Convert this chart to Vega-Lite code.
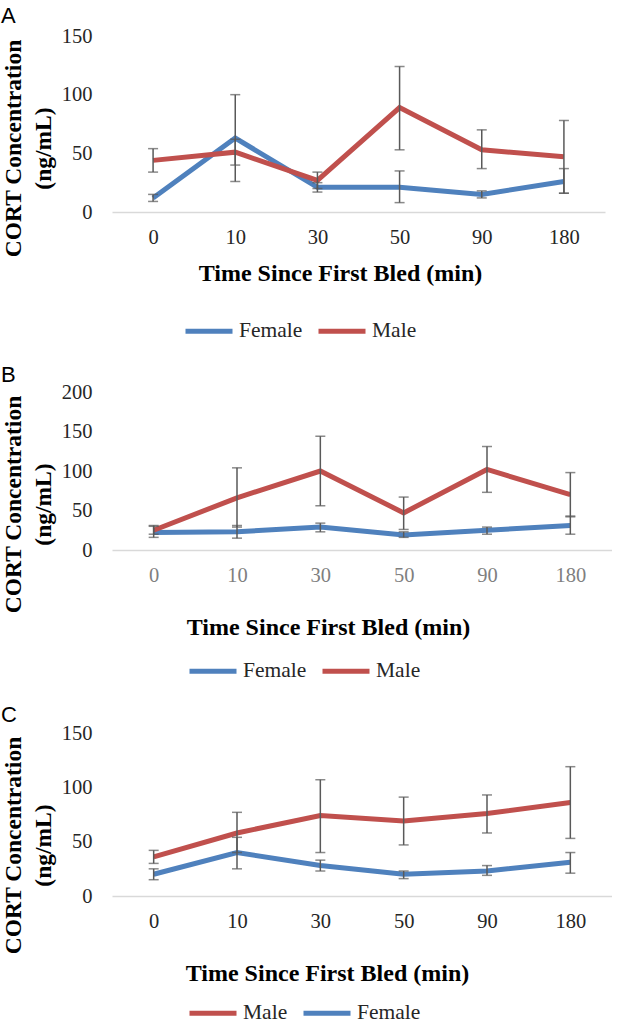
{
  "$schema": "https://vega.github.io/schema/vega-lite/v6.json",
  "padding": {"left": 0, "top": 5, "right": 0, "bottom": 0},
  "spacing": 22,
  "datasets": {
    "A": [
      {"time": 0, "sex": "Female", "mean": 12, "lo": 9, "hi": 15},
      {"time": 10, "sex": "Female", "mean": 63, "lo": 26, "hi": 100},
      {"time": 30, "sex": "Female", "mean": 21, "lo": 17, "hi": 25},
      {"time": 50, "sex": "Female", "mean": 21, "lo": 8, "hi": 35},
      {"time": 90, "sex": "Female", "mean": 15, "lo": 12, "hi": 18},
      {"time": 180, "sex": "Female", "mean": 26, "lo": 16, "hi": 37},
      {"time": 0, "sex": "Male", "mean": 44, "lo": 34, "hi": 54},
      {"time": 10, "sex": "Male", "mean": 51, "lo": 40, "hi": 62},
      {"time": 30, "sex": "Male", "mean": 27, "lo": 20, "hi": 34},
      {"time": 50, "sex": "Male", "mean": 89, "lo": 53, "hi": 124},
      {"time": 90, "sex": "Male", "mean": 53, "lo": 37, "hi": 70},
      {"time": 180, "sex": "Male", "mean": 47, "lo": 16, "hi": 78}
    ],
    "B": [
      {"time": 0, "sex": "Female", "mean": 22, "lo": 16, "hi": 30},
      {"time": 10, "sex": "Female", "mean": 23, "lo": 15, "hi": 31},
      {"time": 30, "sex": "Female", "mean": 29, "lo": 23, "hi": 34},
      {"time": 50, "sex": "Female", "mean": 19, "lo": 16, "hi": 23},
      {"time": 90, "sex": "Female", "mean": 25, "lo": 20, "hi": 29},
      {"time": 180, "sex": "Female", "mean": 31, "lo": 20, "hi": 43},
      {"time": 0, "sex": "Male", "mean": 25, "lo": 20, "hi": 31},
      {"time": 10, "sex": "Male", "mean": 66, "lo": 29, "hi": 104},
      {"time": 30, "sex": "Male", "mean": 100, "lo": 56, "hi": 144},
      {"time": 50, "sex": "Male", "mean": 47, "lo": 26, "hi": 67},
      {"time": 90, "sex": "Male", "mean": 102, "lo": 73, "hi": 131},
      {"time": 180, "sex": "Male", "mean": 70, "lo": 42, "hi": 98}
    ],
    "C": [
      {"time": 0, "sex": "Male", "mean": 36, "lo": 30, "hi": 42},
      {"time": 10, "sex": "Male", "mean": 58, "lo": 40, "hi": 77},
      {"time": 30, "sex": "Male", "mean": 74, "lo": 40, "hi": 107},
      {"time": 50, "sex": "Male", "mean": 69, "lo": 47, "hi": 91},
      {"time": 90, "sex": "Male", "mean": 76, "lo": 58, "hi": 93},
      {"time": 180, "sex": "Male", "mean": 86, "lo": 53, "hi": 119},
      {"time": 0, "sex": "Female", "mean": 20, "lo": 15, "hi": 25},
      {"time": 10, "sex": "Female", "mean": 40, "lo": 25, "hi": 54},
      {"time": 30, "sex": "Female", "mean": 28, "lo": 23, "hi": 33},
      {"time": 50, "sex": "Female", "mean": 20, "lo": 16, "hi": 23},
      {"time": 90, "sex": "Female", "mean": 23, "lo": 19, "hi": 28},
      {"time": 180, "sex": "Female", "mean": 31, "lo": 21, "hi": 40}
    ]
  },
  "config": {
    "view": {"stroke": null},
    "axis": {"labelFont": "Liberation Serif", "labelFontSize": 20.5, "labelColor": "#262626", "ticks": false, "tickSize": 0, "grid": false, "titleColor": "#000000"},
    "axisX": {"domainColor": "#d9d9d9", "domainWidth": 1.5, "labelAngle": 0, "labelPadding": 15, "titleFont": "Liberation Serif", "titleFontSize": 24, "titleFontWeight": "bold", "titleAlign": "center", "titleBaseline": "middle"},
    "axisY": {"domain": false, "labelPadding": 20, "titleFont": "Liberation Serif", "titleFontSize": 23.5, "titleFontWeight": "bold", "titleAngle": -90, "titleAlign": "center", "titleBaseline": "middle", "titleLineHeight": 30, "titleX": -99, "titleY": 112},
    "legend": {"orient": "none", "direction": "horizontal", "symbolType": "stroke", "symbolStrokeWidth": 5, "symbolSize": 2209, "labelFont": "Liberation Serif", "labelFontSize": 21.5, "labelColor": "#262626", "labelOffset": 4, "columnPadding": 5, "title": null},
    "title": {"font": "Liberation Sans", "fontSize": 22, "fontWeight": "normal", "anchor": "start", "frame": "bounds", "color": "#000000"}
  },
  "resolve": {"scale": {"x": "independent", "y": "independent", "color": "independent"}, "legend": {"color": "independent"}},
  "vconcat": [
    {
      "title": {"text": "A", "offset": -2},
      "width": 493,
      "height": 176,
      "data": {"name": "A"},
      "encoding": {
        "x": {"field": "time", "type": "ordinal", "scale": {"type": "point", "padding": 0.5}, "axis": {"title": "Time Since First Bled (min)", "titleX": 228, "titleY": 61}}
      },
      "layer": [
        {
          "mark": {"type": "line", "strokeWidth": 5},
          "encoding": {
            "y": {"field": "mean", "type": "quantitative", "scale": {"domain": [0, 150]}, "axis": {"values": [0, 50, 100, 150], "title": ["CORT Concentration", "(ng/mL)"]}},
            "color": {"field": "sex", "type": "nominal", "scale": {"domain": ["Female", "Male"], "range": ["#4F81BD", "#C0504D"]}, "legend": {"legendX": 71, "legendY": 269}}
          }
        },
        {
          "mark": {"type": "rule", "color": "#595959", "strokeWidth": 1.5},
          "encoding": {"y": {"field": "lo", "type": "quantitative", "scale": {"domain": [0, 150]}, "axis": {"values": [0, 50, 100, 150], "title": ["CORT Concentration", "(ng/mL)"]}}, "y2": {"field": "hi"}}
        },
        {
          "mark": {"type": "tick", "color": "#595959", "thickness": 1.5, "size": 10},
          "encoding": {"y": {"field": "lo", "type": "quantitative", "scale": {"domain": [0, 150]}, "axis": {"values": [0, 50, 100, 150], "title": ["CORT Concentration", "(ng/mL)"]}}}
        },
        {
          "mark": {"type": "tick", "color": "#595959", "thickness": 1.5, "size": 10},
          "encoding": {"y": {"field": "hi", "type": "quantitative", "scale": {"domain": [0, 150]}, "axis": {"values": [0, 50, 100, 150], "title": ["CORT Concentration", "(ng/mL)"]}}}
        }
      ]
    },
    {
      "title": {"text": "B", "offset": -5},
      "width": 500,
      "height": 158,
      "data": {"name": "B"},
      "encoding": {
        "x": {"field": "time", "type": "ordinal", "scale": {"type": "point", "padding": 0.5}, "axis": {"title": "Time Since First Bled (min)", "titleX": 216, "titleY": 77, "labelColor": "#7f7f7f"}}
      },
      "layer": [
        {
          "mark": {"type": "line", "strokeWidth": 5},
          "encoding": {
            "y": {"field": "mean", "type": "quantitative", "scale": {"domain": [0, 200]}, "axis": {"values": [0, 50, 100, 150, 200], "title": ["CORT Concentration", "(ng/mL)"]}},
            "color": {"field": "sex", "type": "nominal", "scale": {"domain": ["Female", "Male"], "range": ["#4F81BD", "#C0504D"]}, "legend": {"legendX": 75, "legendY": 253}}
          }
        },
        {
          "mark": {"type": "rule", "color": "#595959", "strokeWidth": 1.5},
          "encoding": {"y": {"field": "lo", "type": "quantitative", "scale": {"domain": [0, 200]}, "axis": {"values": [0, 50, 100, 150, 200], "title": ["CORT Concentration", "(ng/mL)"]}}, "y2": {"field": "hi"}}
        },
        {
          "mark": {"type": "tick", "color": "#595959", "thickness": 1.5, "size": 10},
          "encoding": {"y": {"field": "lo", "type": "quantitative", "scale": {"domain": [0, 200]}, "axis": {"values": [0, 50, 100, 150, 200], "title": ["CORT Concentration", "(ng/mL)"]}}}
        },
        {
          "mark": {"type": "tick", "color": "#595959", "thickness": 1.5, "size": 10},
          "encoding": {"y": {"field": "hi", "type": "quantitative", "scale": {"domain": [0, 200]}, "axis": {"values": [0, 50, 100, 150, 200], "title": ["CORT Concentration", "(ng/mL)"]}}}
        }
      ]
    },
    {
      "title": {"text": "C", "offset": -4},
      "width": 500,
      "height": 163,
      "data": {"name": "C"},
      "encoding": {
        "x": {"field": "time", "type": "ordinal", "scale": {"type": "point", "padding": 0.5}, "axis": {"title": "Time Since First Bled (min)", "titleX": 215, "titleY": 77}}
      },
      "layer": [
        {
          "mark": {"type": "line", "strokeWidth": 5},
          "encoding": {
            "y": {"field": "mean", "type": "quantitative", "scale": {"domain": [0, 150]}, "axis": {"values": [0, 50, 100, 150], "title": ["CORT Concentration", "(ng/mL)"]}},
            "color": {"field": "sex", "type": "nominal", "scale": {"domain": ["Male", "Female"], "range": ["#C0504D", "#4F81BD"]}, "legend": {"legendX": 75, "legendY": 254}}
          }
        },
        {
          "mark": {"type": "rule", "color": "#595959", "strokeWidth": 1.5},
          "encoding": {"y": {"field": "lo", "type": "quantitative", "scale": {"domain": [0, 150]}, "axis": {"values": [0, 50, 100, 150], "title": ["CORT Concentration", "(ng/mL)"]}}, "y2": {"field": "hi"}}
        },
        {
          "mark": {"type": "tick", "color": "#595959", "thickness": 1.5, "size": 10},
          "encoding": {"y": {"field": "lo", "type": "quantitative", "scale": {"domain": [0, 150]}, "axis": {"values": [0, 50, 100, 150], "title": ["CORT Concentration", "(ng/mL)"]}}}
        },
        {
          "mark": {"type": "tick", "color": "#595959", "thickness": 1.5, "size": 10},
          "encoding": {"y": {"field": "hi", "type": "quantitative", "scale": {"domain": [0, 150]}, "axis": {"values": [0, 50, 100, 150], "title": ["CORT Concentration", "(ng/mL)"]}}}
        }
      ]
    }
  ]
}
